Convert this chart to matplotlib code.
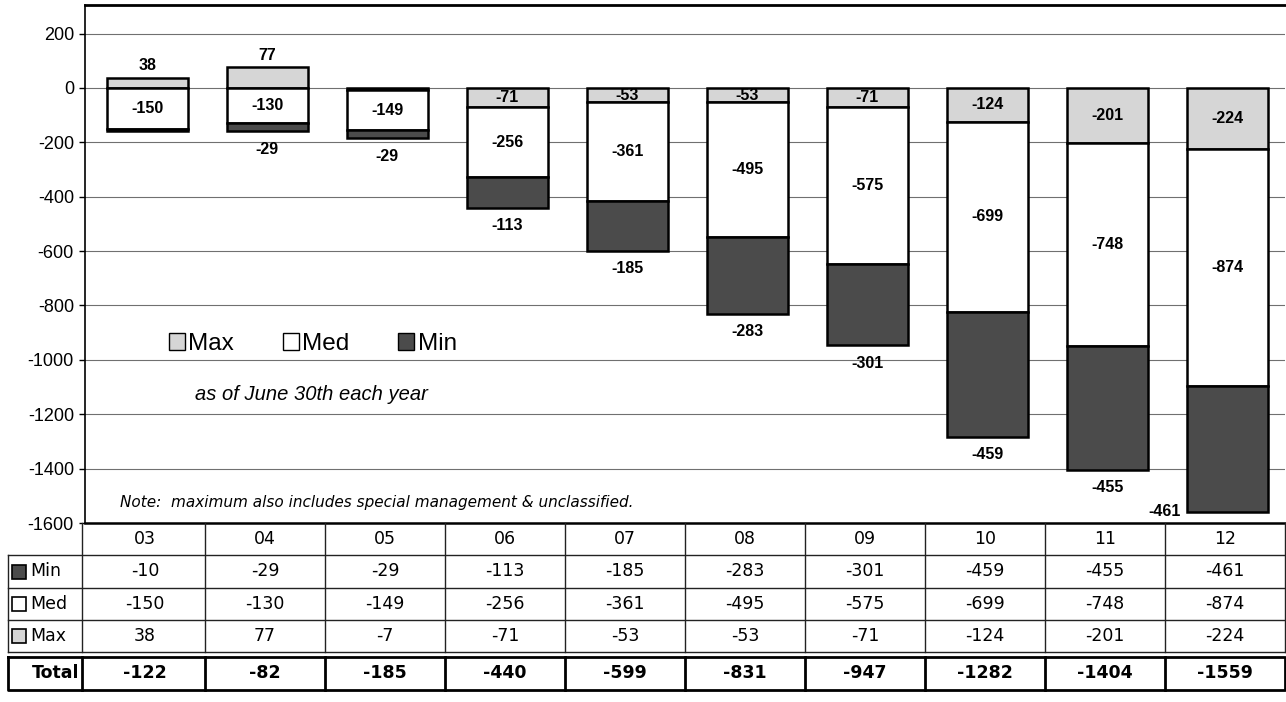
import numpy as np
import matplotlib
import matplotlib.pyplot as plt
from matplotlib.patches import Patch, Rectangle
from matplotlib.ticker import FuncFormatter

matplotlib.rcParams['axes.unicode_minus'] = False

# ---- data -------------------------------------------------------------
years = ["03", "04", "05", "06", "07", "08", "09", "10", "11", "12"]
min_vals = [-10, -29, -29, -113, -185, -283, -301, -459, -455, -461]
med_vals = [-150, -130, -149, -256, -361, -495, -575, -699, -748, -874]
max_vals = [38, 77, -7, -71, -53, -53, -71, -124, -201, -224]
totals = [-122, -82, -185, -440, -599, -831, -947, -1282, -1404, -1559]
y_ticks = list(range(-1600, 201, 200))

# ---- styling ----------------------------------------------------------
C_MAX = "#d6d6d6"
C_MED = "#ffffff"
C_MIN = "#4b4b4b"
ARIAL = "Liberation Sans"
VERDANA = "DejaVu Sans"

W, H = 1286, 702
fig = plt.figure(figsize=(W / 100, H / 100), dpi=100)


def fx(px):
    return px / W


def fy(py):
    return 1 - py / H


ax = fig.add_axes([fx(85), fy(523), fx(1285) - fx(85), fy(5) - fy(523)])

x = np.arange(len(years))
mx = np.array(max_vals, dtype=float)
md = np.array(med_vals, dtype=float)
mn = np.array(min_vals, dtype=float)

neg_base = np.where(mx < 0, mx, 0.0)
med_bottom = neg_base
min_bottom = neg_base + md
bar_w = 0.68
edge = dict(edgecolor="black", linewidth=1.8)

ax.bar(x + 0.02, mx, bar_w, bottom=0, color=C_MAX, zorder=3, **edge)
ax.bar(x + 0.02, md, bar_w, bottom=med_bottom, color=C_MED, zorder=3, **edge)
ax.bar(x + 0.02, mn, bar_w, bottom=min_bottom, color=C_MIN, zorder=3, **edge)

lbl = dict(fontfamily=ARIAL, fontweight="bold", fontsize=11.5, ha="center", zorder=5)
for i in range(len(years)):
    xc = x[i] + 0.02
    # Max segment
    if mx[i] > 0:
        ax.annotate(f"{max_vals[i]}", (xc, mx[i]), xytext=(0, 3),
                    textcoords="offset points", va="bottom", **lbl)
    elif abs(mx[i]) >= 15:
        ax.text(xc, mx[i] / 2, f"{max_vals[i]}", va="center", **lbl)
    # Med segment
    ax.text(xc, med_bottom[i] + md[i] / 2, f"{med_vals[i]}", va="center", **lbl)
    # Min segment: value shown under the bar
    if abs(mn[i]) >= 15:
        y_end = min_bottom[i] + mn[i]
        if i == len(years) - 1:
            ax.annotate(f"{min_vals[i]}", (xc - bar_w / 2, y_end), xytext=(-4, 0),
                        textcoords="offset points", va="center",
                        **{**lbl, "ha": "right"})
        else:
            ax.annotate(f"{min_vals[i]}", (xc, y_end), xytext=(0, -13),
                        textcoords="offset points", va="center", **lbl)

ax.set_xlim(-0.5, len(years) - 0.5)
ax.set_ylim(-1600, 305)
ax.set_yticks(y_ticks)
ax.yaxis.set_major_formatter(FuncFormatter(lambda v, _: f"{int(v)}"))
ax.set_xticks([])
ax.tick_params(axis="y", labelsize=13, length=4, width=1, pad=4)
for t in ax.get_yticklabels():
    t.set_fontfamily(ARIAL)
ax.yaxis.grid(True, color="#707070", linewidth=0.8)
ax.set_axisbelow(True)
ax.spines["right"].set_visible(False)
ax.spines["top"].set_linewidth(2.0)
ax.spines["left"].set_linewidth(1.2)
ax.spines["bottom"].set_linewidth(1.8)

handles = [Patch(facecolor=C_MAX, edgecolor="black", linewidth=1),
           Patch(facecolor=C_MED, edgecolor="black", linewidth=1),
           Patch(facecolor=C_MIN, edgecolor="black", linewidth=1)]
ax.legend(handles, ["Max", "Med", "Min"], loc="center left",
          bbox_to_anchor=(fx(169), fy(344)), bbox_transform=fig.transFigure,
          ncol=3, frameon=False, prop={"family": ARIAL, "size": 17.5},
          handlelength=0.65, handleheight=0.65, handletextpad=0.15,
          columnspacing=2.0, borderpad=0, borderaxespad=0)

fig.text(fx(195), fy(395), "as of June 30th each year", fontfamily=ARIAL,
         fontstyle="italic", fontsize=14.5, va="center", ha="left")
fig.text(fx(120), fy(502), "Note:  maximum also includes special management & unclassified.",
         fontfamily=VERDANA, fontstyle="italic", fontsize=11, va="center", ha="left")

# ---- data table under the chart ----------------------------------------
tax = fig.add_axes([fx(85), fy(692), fx(1285) - fx(85), fy(523) - fy(692)])
tax.set_xlim(-0.5, len(years) - 0.5)
tax.set_ylim(169, 0)
tax.axis("off")

col_w_px = 1200 / len(years)
x_left = -0.5 - (85 - 8) / col_w_px
x_inner = -0.5 - 3 / col_w_px
x_right = len(years) - 0.5
line = dict(color="#222222", linewidth=1.0, clip_on=False)

row_edges = [0, 32, 65, 97, 129]
total_top, total_bot = 134, 167

# horizontal lines
for ry in row_edges[1:]:
    tax.plot([x_left, x_right], [ry, ry], **line)
# vertical lines in the year grid
for k in range(len(years) + 1):
    xv = -0.5 + k if k > 0 else x_inner
    tax.plot([xv, xv], [0, row_edges[-1]], **line)
tax.plot([x_left, x_left], [row_edges[1], row_edges[-1]], **line)

tbl = dict(fontfamily=VERDANA, fontsize=12.5, ha="center", va="center")
row_names = ["Min", "Med", "Max"]
row_vals = [min_vals, med_vals, max_vals]
row_cols = [C_MIN, C_MED, C_MAX]
for i, yr in enumerate(years):
    tax.text(x[i], (row_edges[0] + row_edges[1]) / 2, yr, **tbl)
for r in range(3):
    yc = (row_edges[r + 1] + row_edges[r + 2]) / 2
    for i in range(len(years)):
        tax.text(x[i], yc, f"{row_vals[r][i]}", **tbl)
    sq = 14 / col_w_px
    tax.add_patch(Rectangle((x_left + 4 / col_w_px, yc - 7), sq, 14,
                            facecolor=row_cols[r], edgecolor="black",
                            linewidth=1.2, clip_on=False))
    tax.text(x_left + 22 / col_w_px, yc, row_names[r], fontfamily=VERDANA,
             fontsize=12.5, ha="left", va="center")

# totals row
bold_line = dict(color="black", linewidth=2.0, clip_on=False)
tax.plot([x_left, x_right, x_right, x_left, x_left],
         [total_top, total_top, total_bot, total_bot, total_top], **bold_line)
for k in range(len(years)):
    xv = -0.5 + k if k > 0 else x_inner
    tax.plot([xv, xv], [total_top, total_bot], **bold_line)
yc = (total_top + total_bot) / 2
tax.text(x_inner - 3 / col_w_px, yc, "Total", fontfamily=VERDANA, fontsize=12.5,
         fontweight="bold", ha="right", va="center")
for i in range(len(years)):
    tax.text(x[i], yc, f"{totals[i]}", fontfamily=VERDANA, fontsize=12.5,
             fontweight="bold", ha="center", va="center")

fig.savefig("out.png", dpi=100)
